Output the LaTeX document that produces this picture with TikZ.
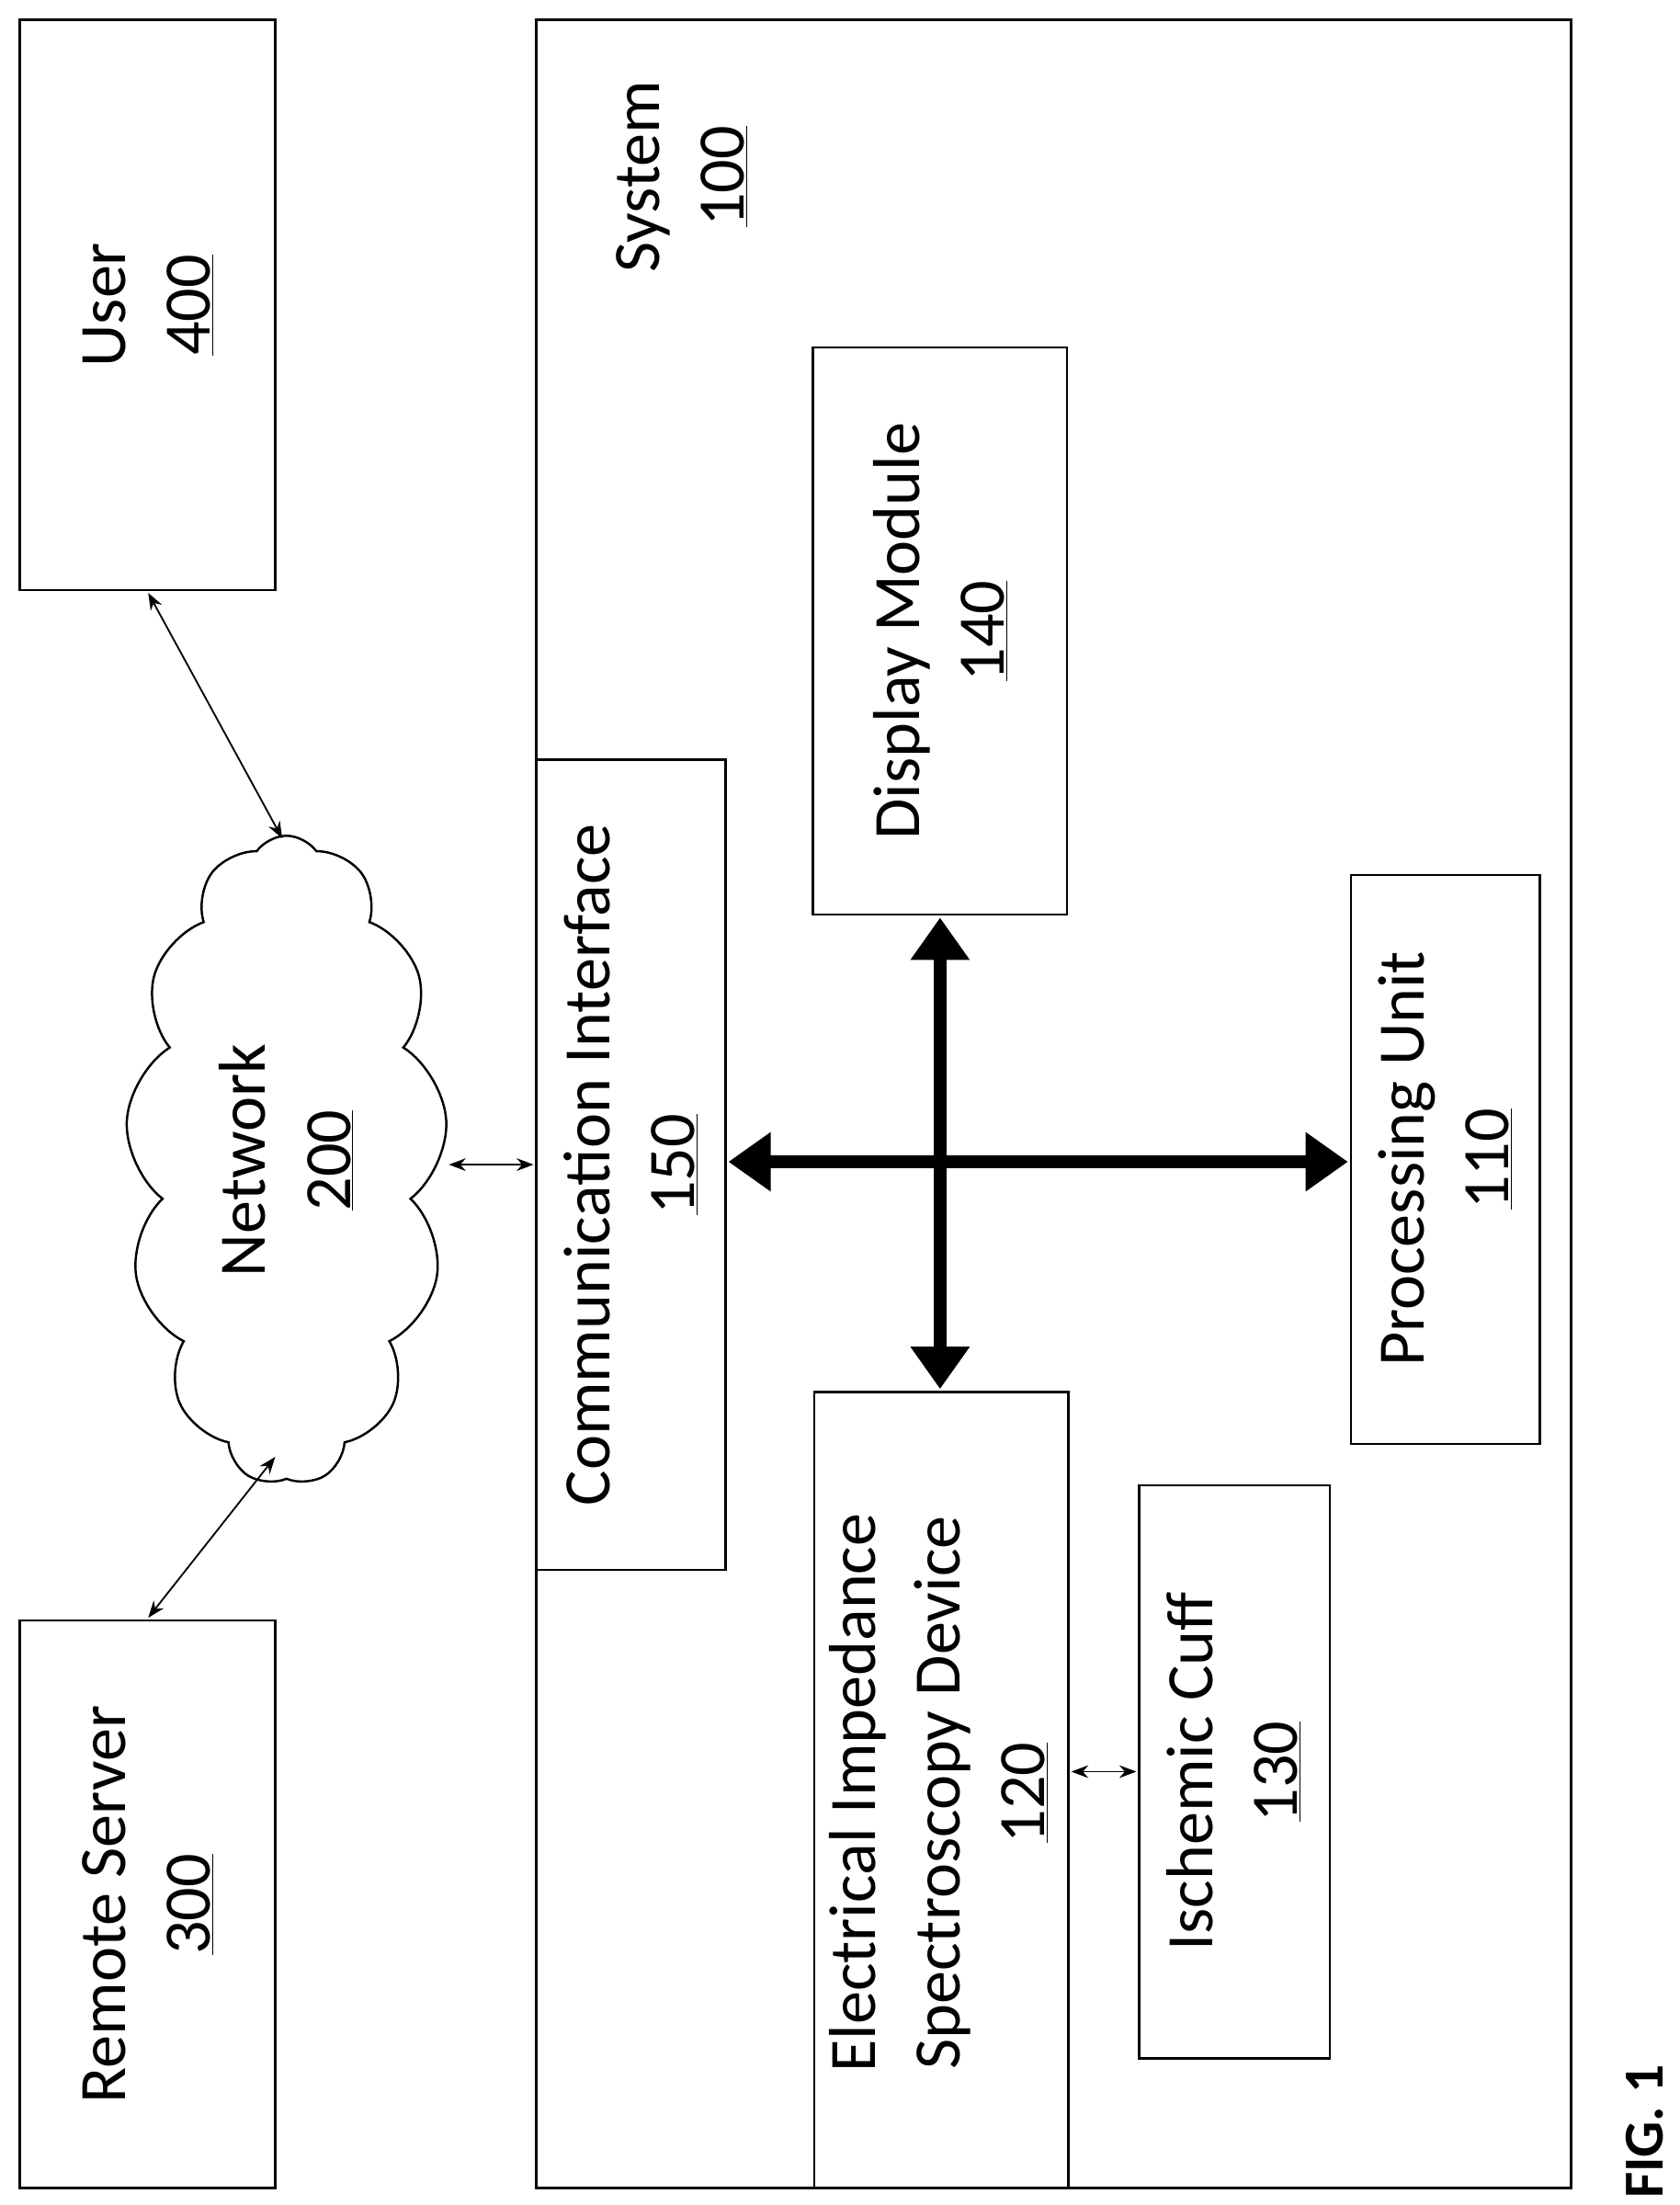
\documentclass[tikz,border=0pt]{standalone}
\usepackage{fontspec}
\setmainfont{Carlito}
\usetikzlibrary{shapes.symbols,arrows.meta}
\begin{document}
\begin{tikzpicture}[x=1pt,y=-1pt,
 box/.style={draw,line width=1.6pt},
 lab/.style={rotate=90,align=center,font=\fontsize{47}{60}\selectfont},
 thin/.style={line width=1.2pt,{Stealth[length=12pt,width=9pt]}-{Stealth[length=12pt,width=9pt]}},
 thick/.style={line width=9pt,{Triangle[length=30pt,width=40pt]}-{Triangle[length=30pt,width=40pt]}}]
\useasboundingbox (0,0) rectangle (1190,1562);
\fill[white] (0,0) rectangle (1190,1562);
\draw[box] (14,14) rectangle (195,418);
\node[lab] (user) at (105,216) {User\\\underline{400}};
\draw[box] (14,1148) rectangle (195,1550);
\node[lab] (rs) at (105,1349) {Remote Server\\\underline{300}};
\draw[box] (380,14) rectangle (1113,1550);
\node[lab] (sys) at (483,125) {System\\\underline{100}};
\draw[box] (380,538) rectangle (514,1112);
\node[lab] (ci) at (447,825) {Communication Interface\\\underline{150}};
\draw[box] (576,246) rectangle (756,648);
\node[lab] (dm) at (666,447) {Display Module\\\underline{140}};
\draw[box] (957,620) rectangle (1091,1023);
\node[lab] (pu) at (1024,821) {Processing Unit\\\underline{110}};
\draw[box] (577,986) rectangle (757,1550);
\node[lab] (eis) at (665,1270) {Electrical Impedance\\Spectroscopy Device\\\underline{120}};
\draw[box] (807,1052) rectangle (942,1458);
\node[lab] (ic) at (874,1255) {Ischemic Cuff\\\underline{130}};
\node[cloud,draw,line width=1.6pt,cloud puffs=13,cloud puff arc=110,aspect=0.5,minimum width=228pt,minimum height=460pt,inner sep=0pt] (cl) at (203,822) {};
\node[lab] (net) at (203,822) {Network\\\underline{200}};
\node[rotate=90,font=\bfseries\fontsize{40}{48}\selectfont] (fig) at (1165,1510) {FIG. 1};
\coordinate (u1) at (105,420); \coordinate (u2) at (200,594);
\coordinate (r1) at (195,1032); \coordinate (r2) at (105,1146);
\coordinate (n1) at (318,825); \coordinate (n2) at (378,825);
\coordinate (e1) at (759,1255); \coordinate (e2) at (805,1255);
\draw[thin] (u1) -- (u2);
\draw[thin] (r1) -- (r2);
\draw[thin] (n1) -- (n2);
\draw[thin] (e1) -- (e2);
\coordinate (h1) at (516,823); \coordinate (h2) at (955,823);
\coordinate (v1) at (666,650); \coordinate (v2) at (666,984);
\draw[thick] (h1) -- (h2);
\draw[thick] (v1) -- (v2);
\end{tikzpicture}
\end{document}
